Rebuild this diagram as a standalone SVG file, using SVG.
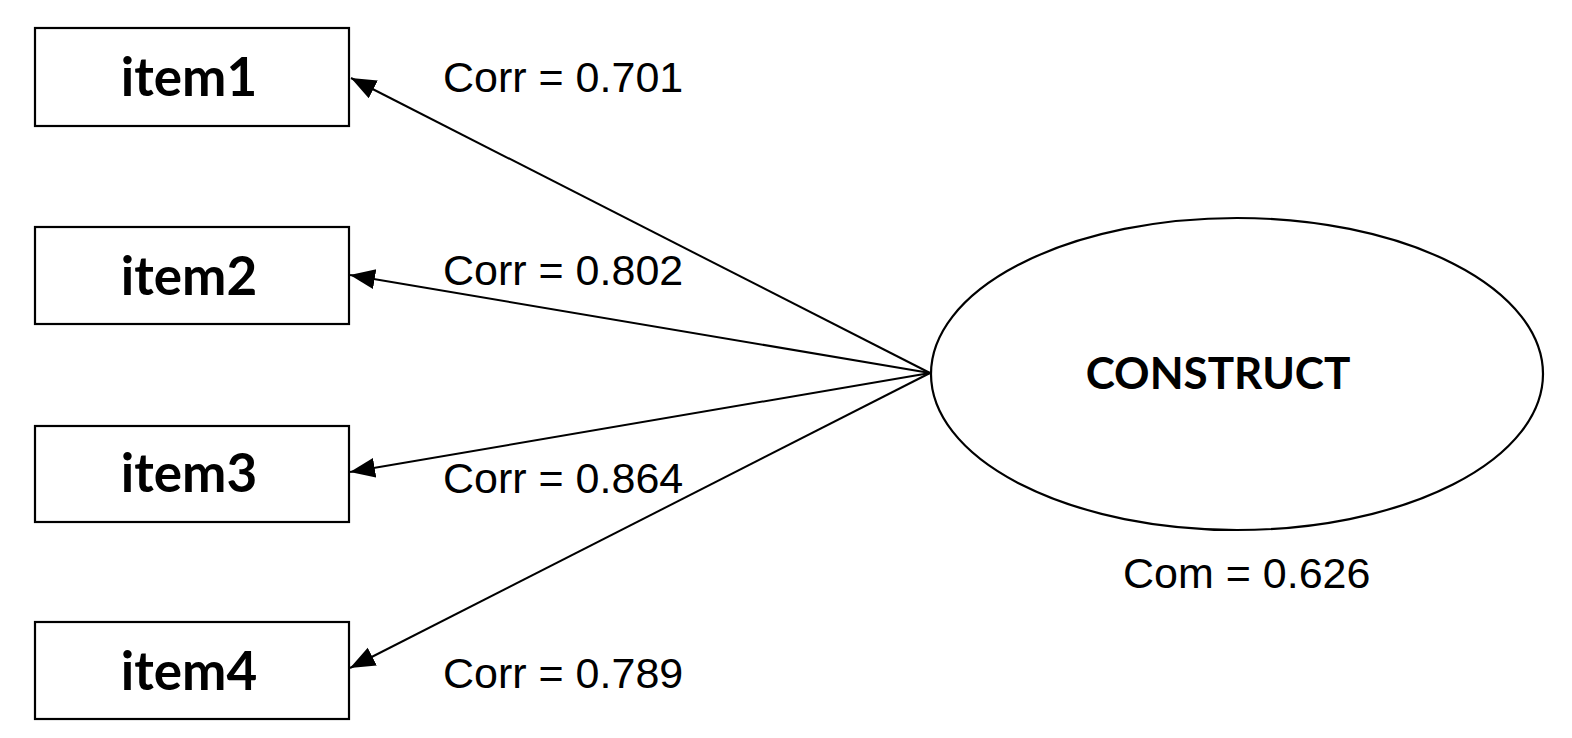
<svg xmlns="http://www.w3.org/2000/svg" width="1572" height="738" viewBox="0 0 1572 738">
<style>
.box{fill:#fff;stroke:#000;stroke-width:2.2}
.ell{fill:#fff;stroke:#000;stroke-width:2.2}
.item{font-family:Lato,"Liberation Sans",sans-serif;font-weight:bold;font-size:53px;text-anchor:middle;fill:#000}
.cons{font-family:Lato,"Liberation Sans",sans-serif;font-weight:bold;font-size:44px;text-anchor:middle;fill:#000}
.lbl{font-family:"Liberation Sans",Arial,sans-serif;font-size:43px;fill:#000}
.conn{stroke:#000;stroke-width:2;fill:none;marker-end:url(#ah)}
</style>
<defs>
<marker id="ah" markerUnits="userSpaceOnUse" markerWidth="26" markerHeight="22" refX="25" refY="10" orient="auto">
<path d="M0,0 L25,10 L0,20 z" fill="#000"/>
</marker>
</defs>
<rect width="1572" height="738" fill="#fff"/>
<g id="connectors">
<line class="conn" x1="930" y1="373" x2="351" y2="78"/>
<line class="conn" x1="930" y1="373" x2="350" y2="275"/>
<line class="conn" x1="930" y1="373" x2="350" y2="472"/>
<line class="conn" x1="930" y1="373" x2="350" y2="668"/>
</g>
<g id="item1">
<rect class="box" x="35" y="28" width="314" height="98"/>
<text class="item" x="189" y="96">item1</text>
</g>
<g id="item2">
<rect class="box" x="35" y="227" width="314" height="97"/>
<text class="item" x="189" y="295">item2</text>
</g>
<g id="item3">
<rect class="box" x="35" y="426" width="314" height="96"/>
<text class="item" x="189" y="492">item3</text>
</g>
<g id="item4">
<rect class="box" x="35" y="622" width="314" height="97"/>
<text class="item" x="189" y="690">item4</text>
</g>
<g id="construct">
<ellipse class="ell" cx="1237" cy="374" rx="306" ry="156"/>
<text class="cons" x="1218" y="389">CONSTRUCT</text>
<text class="lbl" x="1123" y="588">Com = 0.626</text>
</g>
<g id="labels">
<text class="lbl" x="443" y="92">Corr = 0.701</text>
<text class="lbl" x="443" y="285">Corr = 0.802</text>
<text class="lbl" x="443" y="493">Corr = 0.864</text>
<text class="lbl" x="443" y="688">Corr = 0.789</text>
</g>
</svg>
